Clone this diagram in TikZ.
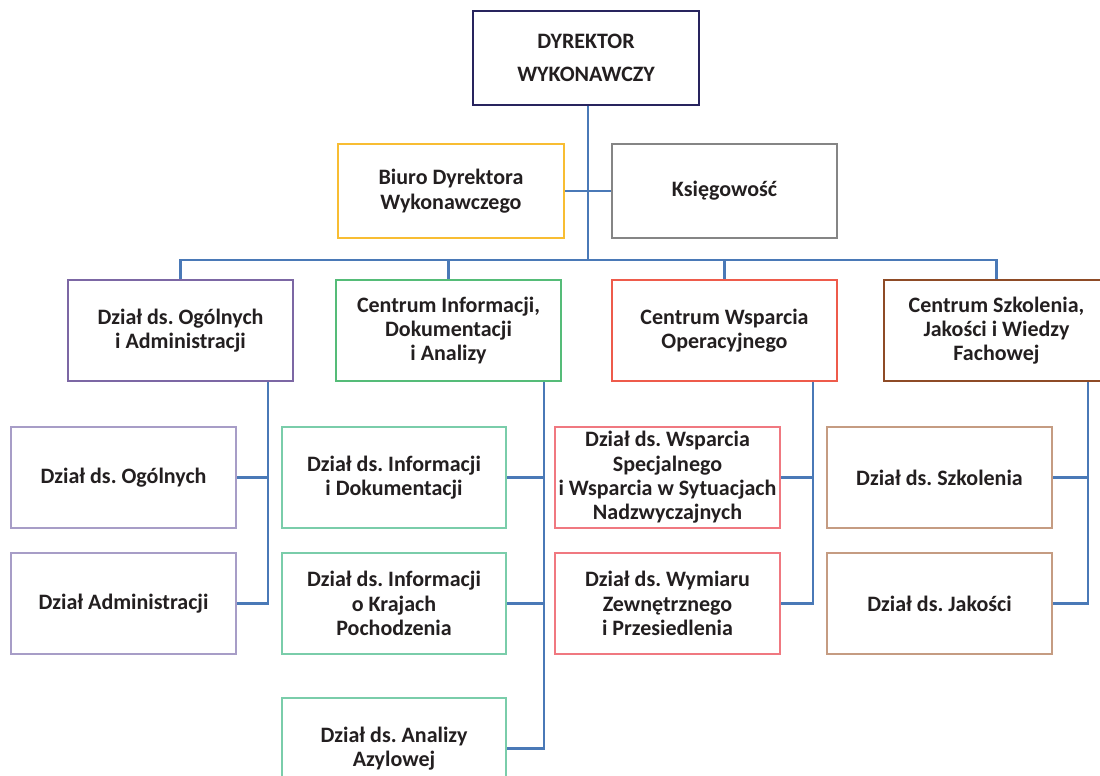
\documentclass[tikz,border=0pt]{standalone}
\usepackage{fontspec}
\setmainfont{Carlito}
\frenchspacing
\definecolor{navy}{HTML}{28245E}
\definecolor{gold}{HTML}{F8BD33}
\definecolor{greyb}{HTML}{858585}
\definecolor{purp}{HTML}{7C67A4}
\definecolor{grn}{HTML}{55BC78}
\definecolor{redb}{HTML}{EE5B4B}
\definecolor{brn}{HTML}{8E4B26}
\definecolor{lav}{HTML}{A79DC7}
\definecolor{teal}{HTML}{7ACDAA}
\definecolor{pink}{HTML}{F07880}
\definecolor{tan}{HTML}{C59C82}
\definecolor{conn}{HTML}{4A79B7}
\definecolor{txt}{HTML}{231F20}
\tikzset{
  orgbox/.style={draw, line width=2.2pt, fill=white, align=center, inner sep=0pt,
    text=txt, font=\frenchspacing\bfseries\fontsize{22}{24.3}\selectfont},
  big/.style={orgbox, minimum width=225pt, minimum height=101pt},
  top/.style={orgbox, minimum width=226pt, minimum height=94pt},
  link/.style={draw=conn, line width=2.2pt}
}
\begin{document}
\begin{tikzpicture}[x=1pt,y=-1pt]
\useasboundingbox (0,0) rectangle (1100,776);
\begin{scope}
\clip (0,0) rectangle (1100,776);
% top
\node[top, draw=navy, font=\bfseries\fontsize{22}{33}\selectfont] (dir) at (586,58) {DYREKTOR\\WYKONAWCZY};
\node[top, draw=gold] (biuro) at (451,191) {Biuro Dyrektora\\Wykonawczego};
\node[top, draw=greyb, minimum width=225pt] (ksieg) at (724.5,191) {Księgowość};
% level 2
\node[big, draw=purp] (dga) at (180.5,330.5) {Dział ds. Ogólnych\\i Administracji};
\node[big, draw=grn] (cinf) at (448.5,330.5) {Centrum Informacji,\\Dokumentacji\\i Analizy};
\node[big, draw=redb] (cwo) at (724.5,330.5) {Centrum Wsparcia\\Operacyjnego};
\node[big, draw=brn] (csz) at (996.5,330.5) {Centrum Szkolenia,\\Jakości i Wiedzy\\Fachowej};
% level 3
\node[big, draw=lav] (dog) at (123.5,477.5) {Dział ds. Ogólnych};
\node[big, draw=lav] (dadm) at (123.5,603.5) {Dział Administracji};
\node[big, draw=teal, minimum width=224pt] (dinf) at (394,477.5) {Dział ds. Informacji\\i Dokumentacji};
\node[big, draw=teal, minimum width=224pt] (dkraj) at (394,603.5) {Dział ds. Informacji\\o Krajach\\Pochodzenia};
\node[big, draw=teal, minimum width=224pt] (dazyl) at (394,748.5) {Dział ds. Analizy\\Azylowej};
\node[big, draw=pink] (dwsp) at (667.5,477.5) {Dział ds. Wsparcia\\Specjalnego\\i Wsparcia w Sytuacjach\\Nadzwyczajnych};
\node[big, draw=pink] (dwym) at (667.5,603.5) {Dział ds. Wymiaru\\Zewnętrznego\\i Przesiedlenia};
\node[big, draw=tan] (dszk) at (939.5,477.5) {Dział ds. Szkolenia};
\node[big, draw=tan] (djak) at (939.5,603.5) {Dział ds. Jakości};
% spine coordinates
\coordinate (trunk) at ([xshift=2pt]dir.south);
\coordinate (bus) at ([yshift=-154pt]trunk);
\coordinate (sa) at ([xshift=-26pt]dga.south east);
\coordinate (sb) at ([xshift=-18pt]cinf.south east);
\coordinate (sc) at ([xshift=-25pt]cwo.south east);
\coordinate (sd) at ([xshift=-22pt]csz.south east);
% connectors
\draw[link] (trunk) -- (bus);
\draw[link] (biuro.east) -- (ksieg.west);
\draw[link] (dga.north) |- (bus) -| (csz.north);
\draw[link] (cinf.north) -- (cinf.north |- bus);
\draw[link] (cwo.north) -- (cwo.north |- bus);
\draw[link] (sa) |- (dadm.east);
\draw[link] (dog.east) -- (dog.east -| sa);
\draw[link] (sb) |- (dazyl.east);
\draw[link] (dinf.east) -- (dinf.east -| sb);
\draw[link] (dkraj.east) -- (dkraj.east -| sb);
\draw[link] (sc) |- (dwym.east);
\draw[link] (dwsp.east) -- (dwsp.east -| sc);
\draw[link] (sd) |- (djak.east);
\draw[link] (dszk.east) -- (dszk.east -| sd);
\end{scope}
\end{tikzpicture}
\end{document}
